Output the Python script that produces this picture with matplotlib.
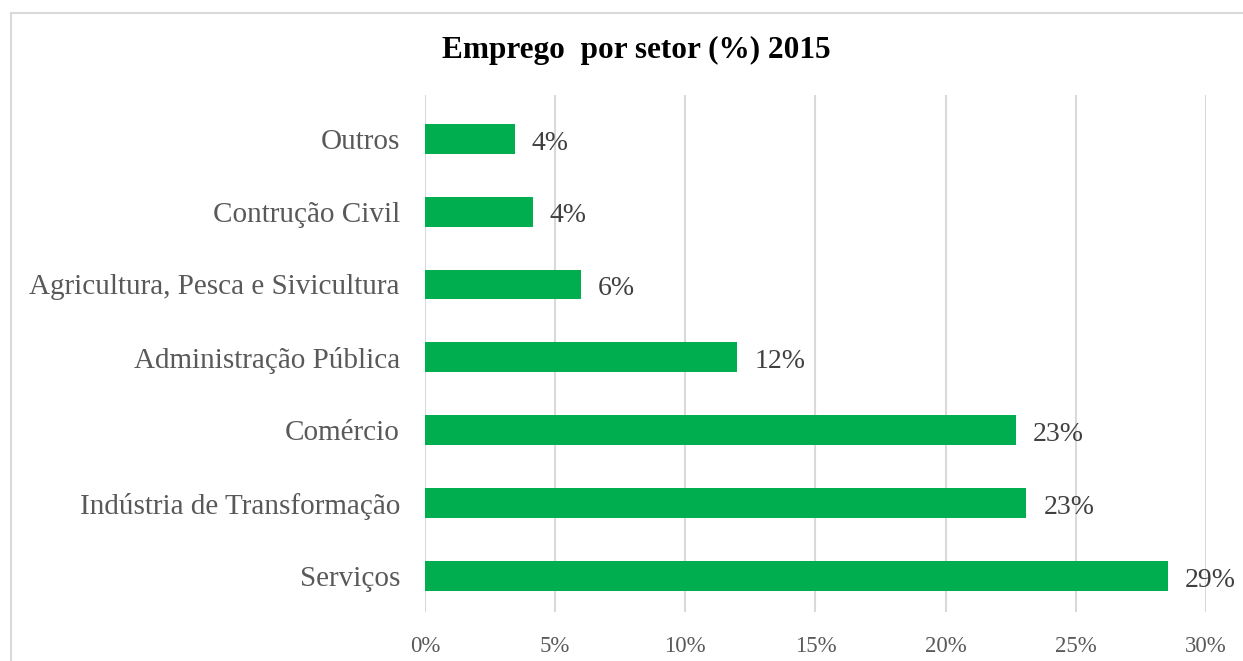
import matplotlib.pyplot as plt
from matplotlib.lines import Line2D

sectors = ["Serviços", "Indústria de Transformação", "Comércio",
           "Administração Pública", "Agricultura, Pesca e Sivicultura",
           "Contrução Civil", "Outros"]
values = [28.55, 23.1, 22.7, 12.0, 6.0, 4.15, 3.45]
labels = ["29%", "23%", "23%", "12%", "6%", "4%", "4%"]
ticks = [0, 5, 10, 15, 20, 25, 30]

plt.rcParams["font.family"] = ["Liberation Serif", "DejaVu Serif"]

fig = plt.figure(figsize=(12.43, 6.61), dpi=100)
ax = fig.add_axes([0.3419, 0.0741, 0.6283, 0.7822])

y = range(len(sectors))
ax.barh(y, values, height=0.41, color="#00AD4F", zorder=3)
for i, (v, lab) in enumerate(zip(values, labels)):
    ax.text(v + 0.65, i - 0.06, lab, va="center", ha="left",
            fontsize=20, color="#404040")

ax.set_xlim(0, 30)
ax.set_ylim(-0.495, 6.6)
ax.set_xticks(ticks)
ax.set_xticklabels([f"{t}%" for t in ticks])
ax.set_yticks(list(y))
ax.set_yticklabels(sectors)
ax.tick_params(axis="both", length=0, labelcolor="#595959")
ax.tick_params(axis="y", pad=18, labelsize=21)
ax.tick_params(axis="x", pad=17, labelsize=16.5)
ax.grid(axis="x", color="#D9D9D9", linewidth=1.5, zorder=0)
for s in ax.spines.values():
    s.set_visible(False)

fig.text(0.512, 0.924, "Emprego  por setor (%) 2015", ha="center", va="center",
         fontsize=22.5, fontweight="bold", color="black")

# outer chart border (top and left edges visible)
fig.add_artist(Line2D([11 / 1243, 1], [1 - 13 / 661, 1 - 13 / 661],
                      color="#D9D9D9", linewidth=1.5))
fig.add_artist(Line2D([11 / 1243, 11 / 1243], [0, 1 - 13 / 661],
                      color="#D9D9D9", linewidth=1.5))

fig.savefig("out.png", dpi=100)
